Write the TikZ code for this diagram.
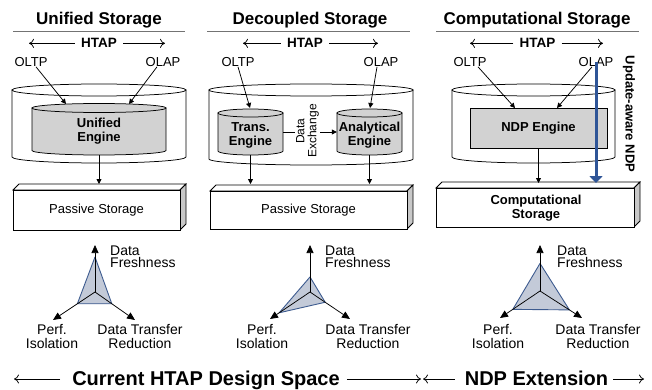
\documentclass[tikz,border=0pt]{standalone}
\usepackage{fontspec}
\setmainfont{Liberation Sans}
\usetikzlibrary{arrows.meta,calc}
\definecolor{chartfill}{HTML}{C3CAD8}
\definecolor{chartedge}{HTML}{3D5B8F}
\definecolor{ndpblue}{HTML}{2F5597}
\definecolor{engray}{HTML}{D2D2D2}
\definecolor{sidegray}{HTML}{C8C8C8}
\newcommand\mycyl[6]{%
  \pgfmathsetmacro\cylmx{(#1+#2)/2}%
  \pgfmathsetmacro\cylrx{(#2-#1)/2}%
  \pgfmathsetmacro\cylka{0.5523*\cylrx}%
  \pgfmathsetmacro\cylkb{0.5523*#5}%
  \filldraw[cyl,fill=#6] (#1,#3) -- (#1,#4) .. controls (#1,#4+\cylkb) and (\cylmx-\cylka,#4+#5) .. (\cylmx,#4+#5) .. controls (\cylmx+\cylka,#4+#5) and (#2,#4+\cylkb) .. (#2,#4) -- (#2,#3) -- cycle;
  \draw[cyl,fill=#6] (\cylmx,#3) ellipse [x radius=\cylrx, y radius=#5];
}
\newcommand\mybox[5]{%
  \filldraw[cyl,fill=white] (#1,#3) -- (#1+#5,#3-#5) -- (#2+#5,#3-#5) -- (#2,#3) -- cycle;
  \filldraw[cyl,fill=sidegray] (#2,#3) -- (#2+#5,#3-#5) -- (#2+#5,#4-#5) -- (#2,#4) -- cycle;
  \filldraw[cyl,fill=white] (#1,#3) rectangle (#2,#4);
}
\begin{document}
\begin{tikzpicture}[x=1pt,y=-1pt,
  cyl/.style={line width=0.75pt},
  uline/.style={line width=0.9pt,black!55},
  arr/.style={line width=0.75pt,-{Triangle[length=5pt,width=5pt]}},
  axarr/.style={line width=0.75pt,-{Triangle[length=8pt,width=7pt]}},
  harr/.style={line width=0.75pt,-{Computer Modern Rightarrow[length=5pt,width=9pt]}},
  bluearr/.style={line width=3pt,ndpblue,-{Triangle[length=7pt,width=13pt]}},
  ttl/.style={font=\fontsize{17}{19}\selectfont\bfseries,inner sep=0pt,anchor=base},
  htap/.style={font=\fontsize{13.5}{15}\selectfont\bfseries,inner sep=0pt,anchor=base},
  lbl/.style={font=\fontsize{13}{15}\selectfont,inner sep=0pt,anchor=base},
  eng/.style={font=\fontsize{13}{14}\selectfont\bfseries,inner sep=0pt,align=center},
  engbox/.style={eng,minimum width=65pt},
  dx/.style={font=\fontsize{12}{12}\selectfont,inner sep=1pt,align=center,fill=white},
  ndpeng/.style={font=\fontsize{13}{14}\selectfont\bfseries,draw,line width=0.75pt,fill=engray,minimum width=137pt,minimum height=40pt,inner sep=0pt},
  upd/.style={font=\fontsize{13}{14}\selectfont\bfseries,inner sep=0pt},
  clbl/.style={font=\fontsize{14}{13.5}\selectfont,inner sep=0pt,align=center},
  clbll/.style={font=\fontsize{14}{12.5}\selectfont,inner sep=0pt,align=left,anchor=west},
  poly/.style={fill=chartfill,draw=chartedge,line width=0.9pt,line join=round},
  big/.style={font=\fontsize{20}{22}\selectfont\bfseries,inner sep=0pt,anchor=base}]
\useasboundingbox (0,0) rectangle (652,390);

% ---------------- Panel 1 ----------------
\node[ttl] (t1) at (99,25) {Unified Storage};
\draw[uline] (13,31) -- (185,31);
\node[htap] (h1) at (99,48) {HTAP};
\coordinate (h1l) at (29,44); \coordinate (h1r) at (165,44);
\draw[harr] ([xshift=-6pt]h1.west) -- (h1.west -| h1l);
\draw[harr] ([xshift=6pt]h1.east) -- (h1.east -| h1r);
\node[lbl] (oltp1) at (31,66.5) {OLTP};
\node[lbl] (olap1) at (163,66.5) {OLAP};
\mycyl{12}{186}{90}{157}{6}{white}
\mycyl{32}{166}{108}{150.5}{4.5}{engray}
\node[eng] (ue) at (99,131) {Unified\\Engine};
\coordinate (ue1) at (66,104); \coordinate (ue2) at (129,104);
\coordinate (ueb) at (99,155);
\draw[arr] ([xshift=5pt]oltp1.south) -- (ue1);
\draw[arr] ([xshift=-6pt]olap1.south) -- (ue2);
\mybox{13}{180}{190}{230}{6}
\node[lbl] (ps1) at (96.5,213) {Passive Storage};
\coordinate (ps1t) at (99,184);
\draw[arr] (ueb) -- (ps1t);

% ---------------- Panel 2 ----------------
\node[ttl] (t2) at (310,25) {Decoupled Storage};
\draw[uline] (207,31) -- (410,31);
\node[htap] (h2) at (305,48) {HTAP};
\coordinate (h2l) at (243,44); \coordinate (h2r) at (378,44);
\draw[harr] ([xshift=-6pt]h2.west) -- (h2.west -| h2l);
\draw[harr] ([xshift=6pt]h2.east) -- (h2.east -| h2r);
\node[lbl] (oltp2) at (238,66.5) {OLTP};
\node[lbl] (olap2) at (381,66.5) {OLAP};
\mycyl{209}{413}{90}{159}{6}{white}
\mycyl{218}{283}{113}{151}{4}{engray}
\mycyl{337}{402}{113}{151}{4}{engray}
\node[engbox] (te) at (250.5,135) {Trans.\\Engine};
\node[engbox] (ae) at (369.5,135) {Analytical\\Engine};
\coordinate (te1) at (250,108); \coordinate (ae1) at (370,108);
\draw[arr] (oltp2.south) -- (te1);
\draw[arr] ([xshift=-4pt]olap2.south) -- (ae1);
\draw[arr] ([yshift=3pt]te.east) -- ([yshift=3pt]ae.west);
\node[dx,rotate=90] (dxn) at (307.5,131) {Data\\Exchange};
\coordinate (teb) at (250.5,155); \coordinate (aeb) at (369.5,155);
\mybox{210}{407}{191}{229}{6}
\node[lbl] (ps2) at (308.5,213) {Passive Storage};
\coordinate (ps2a) at (250.5,184); \coordinate (ps2b) at (369.5,184);
\draw[arr] (teb) -- (ps2a);
\draw[arr] (aeb) -- (ps2b);

% ---------------- Panel 3 ----------------
\node[ttl] (t3) at (537,25) {Computational Storage};
\draw[uline] (436,31) -- (639,31);
\node[htap] (h3) at (537.5,48) {HTAP};
\coordinate (h3l) at (470,44); \coordinate (h3r) at (603,44);
\draw[harr] ([xshift=-6pt]h3.west) -- (h3.west -| h3l);
\draw[harr] ([xshift=6pt]h3.east) -- (h3.east -| h3r);
\node[lbl] (oltp3) at (470,66.5) {OLTP};
\node[lbl] (olap3) at (596,66.5) {OLAP};
\mycyl{452}{615}{90}{157}{6}{white}
\node[ndpeng] (ndp) at (538.5,128) {NDP Engine};
\coordinate (ndp1) at (515,108); \coordinate (ndp2) at (557,108);
\draw[arr] ([xshift=8pt]oltp3.south) -- (ndp1);
\draw[arr] ([xshift=-4pt]olap3.south) -- (ndp2);
\mybox{436}{634}{188}{227}{6}
\node[eng] (cs) at (536,208.5) {Computational\\Storage};
\coordinate (cst) at (538.5,183);
\draw[arr] (ndp.south) -- (cst);
\coordinate (csb) at (596,183);
\draw[bluearr] (olap3.center) -- (csb);
\node[upd,rotate=-90] (upd) at (629,114) {Update-aware NDP};

% ---------------- Charts ----------------
% chart 1
\coordinate (c1) at (95,292);
\coordinate (c1t) at (95,245); \coordinate (c1l) at (53,320); \coordinate (c1r) at (135,320);
\draw[poly] ($(c1)!0.745!(c1t)$) -- ($(c1)!0.42!(c1l)$) -- ($(c1)!0.42!(c1r)$) -- cycle;
\draw[axarr] (c1) -- (c1t);
\draw[axarr] (c1) -- (c1l);
\draw[axarr] (c1) -- (c1r);
\node[clbll] (df1) at (110,257) {Data\\Freshness};
\node[clbl] (pi1) at (52,336.5) {Perf.\\Isolation};
\node[clbl] (dt1) at (140,336.5) {Data Transfer\\Reduction};
% chart 2
\coordinate (c2) at (310,292);
\coordinate (c2t) at (310,245); \coordinate (c2l) at (270,319); \coordinate (c2r) at (350,319);
\draw[poly] ($(c2)!0.32!(c2t)$) -- ($(c2)!0.77!(c2l)$) -- ($(c2)!0.38!(c2r)$) -- cycle;
\draw[axarr] (c2) -- (c2t);
\draw[axarr] (c2) -- (c2l);
\draw[axarr] (c2) -- (c2r);
\node[clbll] (df2) at (325,257) {Data\\Freshness};
\node[clbl] (pi2) at (262,336.5) {Perf.\\Isolation};
\node[clbl] (dt2) at (368,336.5) {Data Transfer\\Reduction};
% chart 3
\coordinate (c3) at (540,291);
\coordinate (c3t) at (540,245); \coordinate (c3l) at (500,318); \coordinate (c3r) at (582,318);
\draw[poly] ($(c3)!0.6!(c3t)$) -- ($(c3)!0.68!(c3l)$) -- ($(c3)!0.7!(c3r)$) -- cycle;
\draw[axarr] (c3) -- (c3t);
\draw[axarr] (c3) -- (c3l);
\draw[axarr] (c3) -- (c3r);
\node[clbll] (df3) at (557,257) {Data\\Freshness};
\node[clbl] (pi3) at (498,336.5) {Perf.\\Isolation};
\node[clbl] (dt3) at (598,336.5) {Data Transfer\\Reduction};

% ---------------- Bottom ----------------
\node[big] (cur) at (206,385) {Current HTAP Design Space};
\node[big] (ndpx) at (536.5,385) {NDP Extension};
\coordinate (b1) at (14,379); \coordinate (b2) at (421,379);
\coordinate (b3) at (423,379); \coordinate (b4) at (644,379);
\draw[harr] ([xshift=-12pt]cur.west |- b1) -- (b1);
\draw[harr] ([xshift=7pt]cur.east |- b2) -- (b2);
\draw[harr] ([xshift=-10pt]ndpx.west |- b3) -- (b3);
\draw[harr] ([xshift=5pt]ndpx.east |- b4) -- (b4);
\end{tikzpicture}
\end{document}
